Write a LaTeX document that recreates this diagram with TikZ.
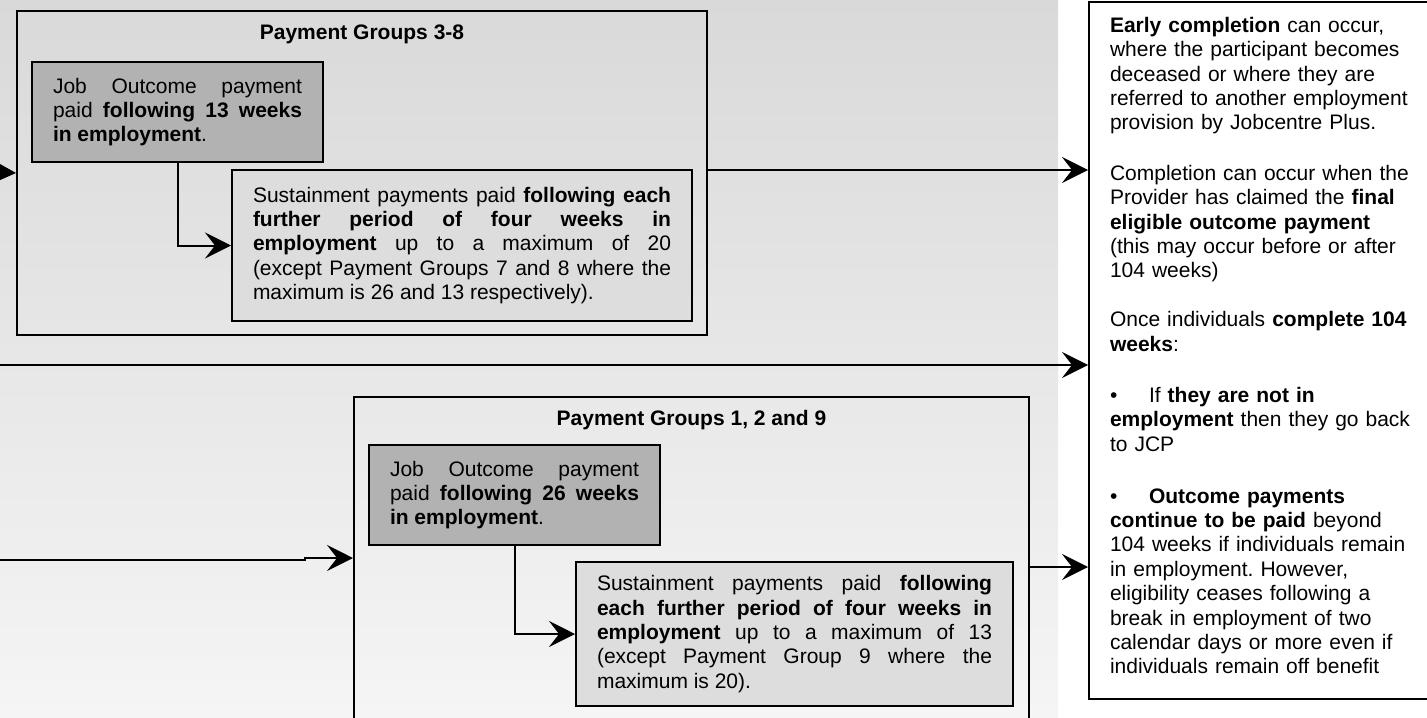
\documentclass[tikz,border=0pt]{standalone}
\usepackage{fontspec}
\setmainfont{Liberation Sans}
\usetikzlibrary{arrows.meta,positioning}
\frenchspacing

\definecolor{bgtop}{RGB}{217,217,217}
\definecolor{bgmid}{RGB}{234,234,234}
\definecolor{bgbot}{RGB}{245,245,245}
\definecolor{jobgray}{RGB}{178,178,178}
\definecolor{sustgray}{RGB}{221,221,221}

\begin{document}
\begin{tikzpicture}[x=0.5pt,y=-0.5pt,
  font=\fontsize{10.5}{12.2}\selectfont,
  group/.style={draw, line width=1pt, anchor=north west, inner sep=0pt},
  grptitle/.style={font=\fontsize{10.5}{12.2}\selectfont\bfseries, inner sep=0pt},
  jobbox/.style={draw, line width=1pt, fill=jobgray, anchor=north west,
    text width=124.5pt, inner xsep=10.5pt, minimum height=50pt, align=justify},
  sustbox/.style={draw, line width=1pt, fill=sustgray, anchor=north west,
    inner xsep=10.5pt, align=justify},
  notebox/.style={draw, line width=1pt, fill=white, anchor=north west,
    text width=155pt, inner xsep=10.5pt, minimum height=348.5pt, align=left},
  flow/.style={draw, line width=1pt, -{Stealth[length=13pt,width=13pt,inset=5pt]}}]

  \useasboundingbox (0,0) rectangle (1427,717);
  \clip (0,0) rectangle (1427,717);
  \shade[top color=bgtop, middle color=bgmid, bottom color=bgbot] (0,0) rectangle (1058,717);

  % upper group
  \node[group, minimum width=345pt, minimum height=162pt] (grpA) at (16,10) {};
  \node[grptitle, below=7pt of grpA.north] (titleA) {Payment Groups 3-8};
  \node[jobbox] (jobA) at (31,61)
    {Job Outcome payment\linebreak paid \textbf{following 13 weeks}\linebreak \textbf{in employment}.};
  \node[sustbox, text width=209pt, minimum height=75.5pt] (sustA) at (231,169)
    {Sustainment payments paid \textbf{following each}\linebreak
     \textbf{further period of four weeks in}\linebreak
     \textbf{employment} up to a maximum of 20\linebreak
     (except Payment Groups 7 and 8 where the\linebreak
     maximum is 26 and 13 respectively).};

  % lower group
  \node[group, minimum width=337.5pt, minimum height=170pt] (grpB) at (353,396) {};
  \node[grptitle, below=7pt of grpB.north] (titleB) {Payment Groups 1, 2 and 9};
  \node[jobbox] (jobB) at (368,444)
    {Job Outcome payment\linebreak paid \textbf{following 26 weeks}\linebreak \textbf{in employment}.};
  \node[sustbox, text width=197.5pt, minimum height=72pt] (sustB) at (575,561)
    {Sustainment payments paid \textbf{following}\linebreak
     \textbf{each further period of four weeks in}\linebreak
     \textbf{employment} up to a maximum of 13\linebreak
     (except Payment Group 9 where the\linebreak
     maximum is 20).};

  % completion notes
  \node[notebox] (notes) at (1088,1)
    {\textbf{Early completion} can occur,\\
     where the participant becomes\\
     deceased or where they are\\
     referred to another employment\\
     provision by Jobcentre Plus.\\[13pt]
     Completion can occur when the\\
     Provider has claimed the \textbf{final}\\
     \textbf{eligible outcome payment}\\
     (this may occur before or after\\
     104 weeks)\\[12.3pt]
     Once individuals \textbf{complete 104}\\
     \textbf{weeks}:\\[13.3pt]
     \makebox[19.5pt][l]{•}If \textbf{they are not in}\\
     \textbf{employment} then they go back\\
     to JCP\\[13.8pt]
     \makebox[19.5pt][l]{•}\textbf{Outcome payments}\\
     \textbf{continue to be paid} beyond\\
     104 weeks if individuals remain\\
     in employment. However,\\
     eligibility ceases following a\\
     break in employment of two\\
     calendar days or more even if\\
     individuals remain off benefit\rule[-5pt]{0pt}{0pt}};

  \coordinate (inA) at (-5,172);
  \coordinate (inC) at (-5,365);
  \coordinate (inB) at (-5,560);
  \coordinate (stepB) at (305,558);

  \path[flow] (inA) -- (grpA.west);
  \path[flow] (jobA.south) |- (sustA.west);
  \path[flow] ([yshift=1.5pt]grpA.east) -- ([yshift=1.5pt]grpA.east -| notes.west);
  \path[flow] (inC) -- (inC -| notes.west);
  \path[flow] (inB) -- (inB -| stepB) -- (stepB) -- (stepB -| grpB.west);
  \path[flow] (jobB.south) |- (sustB.west);
  \path[flow] (grpB.east) -- (grpB.east -| notes.west);
\end{tikzpicture}
\end{document}
